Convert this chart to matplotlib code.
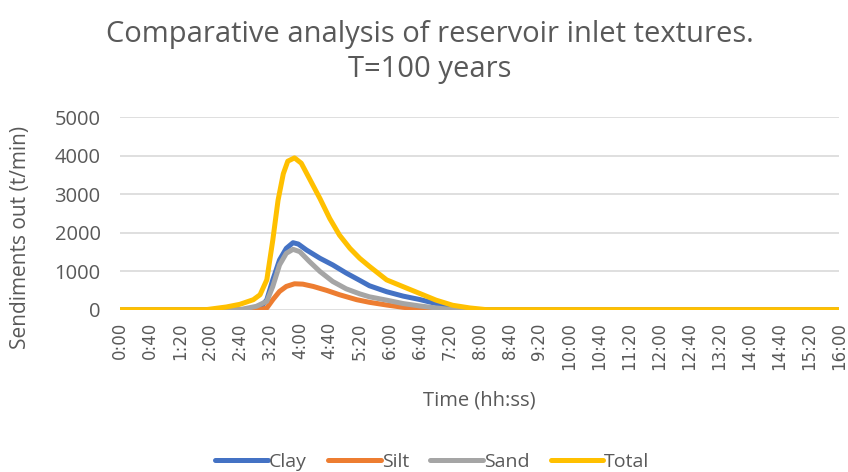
import matplotlib.pyplot as plt

# time in minutes, values in t/min
t_clay = [0, 182, 187, 196, 204, 213, 222, 231, 238, 249, 267, 284, 302, 320, 333, 356, 378, 400, 422, 440, 455, 960]
clay = [0, 0, 43, 258, 774, 1290, 1591, 1738, 1703, 1548, 1333, 1161, 950, 760, 620, 465, 351, 263, 158, 53, 0, 0]

t_silt = [0, 187, 196, 204, 213, 222, 233, 244, 258, 276, 293, 316, 333, 356, 378, 400, 420, 960]
silt = [0, 0, 43, 258, 473, 602, 671, 662, 602, 499, 387, 258, 190, 120, 60, 20, 0, 0]

t_sand = [0, 160, 182, 196, 204, 213, 222, 231, 240, 253, 267, 284, 302, 320, 333, 356, 378, 400, 422, 444, 960]
sand = [0, 0, 86, 215, 602, 1161, 1462, 1566, 1505, 1247, 989, 731, 540, 410, 333, 246, 158, 96, 44, 0, 0]

t_total = [0, 115, 142, 160, 178, 187, 196, 204, 211, 218, 224, 233, 242, 253, 267, 280, 293, 307, 320, 333,
           356, 378, 400, 422, 444, 467, 489, 960]
total = [0, 0, 69, 138, 258, 387, 774, 1806, 2839, 3527, 3854, 3940, 3802, 3398, 2882, 2366, 1935, 1591, 1333, 1123,
         772, 596, 421, 246, 114, 44, 0, 0]

tick_minutes = list(range(0, 961, 40))
tick_labels = [f"{m // 60}:{m % 60:02d}" for m in tick_minutes]

plt.rcParams['font.family'] = ['Open Sans', 'DejaVu Sans']
grey = '#595959'

fig = plt.figure(figsize=(8.48, 4.72), dpi=100)
ax = fig.add_axes([0.1415, 0.344, 0.848, 0.408])

lw = 3.6
ax.plot(t_clay, clay, color='#4472C4', lw=lw, label='Clay', solid_capstyle='round', solid_joinstyle='round')
ax.plot(t_silt, silt, color='#ED7D31', lw=lw, label='Silt', solid_capstyle='round', solid_joinstyle='round')
ax.plot(t_sand, sand, color='#A5A5A5', lw=lw, label='Sand', solid_capstyle='round', solid_joinstyle='round')
ax.plot(t_total, total, color='#FFC000', lw=lw, label='Total', solid_capstyle='round', solid_joinstyle='round')

ax.set_xlim(0, 960)
ax.set_ylim(0, 5000)
ax.set_yticks(range(0, 5001, 1000))
ax.set_xticks(tick_minutes)
ax.set_xticklabels(tick_labels, rotation=90, fontfamily='DejaVu Sans', fontsize=12)
ax.tick_params(axis='both', length=0, colors=grey)
ax.tick_params(axis='y', labelsize=14.5, pad=14)
ax.tick_params(axis='x', pad=9)
ax.grid(axis='y', color='#D9D9D9', lw=1.2)
ax.set_axisbelow(True)
for s in ax.spines.values():
    s.set_visible(False)

ax.set_xlabel('Time (hh:ss)', color=grey, fontsize=14.5, va='center')
ax.xaxis.set_label_coords(0.5, -0.47)
ax.set_ylabel('Sendiments out (t/min)', color=grey, fontsize=15, va='center')
ax.yaxis.set_label_coords(-0.138, 0.377)

fig.text(0.507, 0.89, 'Comparative analysis of reservoir inlet textures.\nT=100 years',
         ha='center', va='center', color=grey, fontsize=21, linespacing=1.25)

leg = fig.legend(loc='center', bbox_to_anchor=(0.51, 0.022), ncol=4, frameon=False,
                 fontsize=14, handlelength=2.7, handletextpad=0.05, columnspacing=1.1)
for txt in leg.get_texts():
    txt.set_color(grey)

fig.savefig('out.png', dpi=100)
